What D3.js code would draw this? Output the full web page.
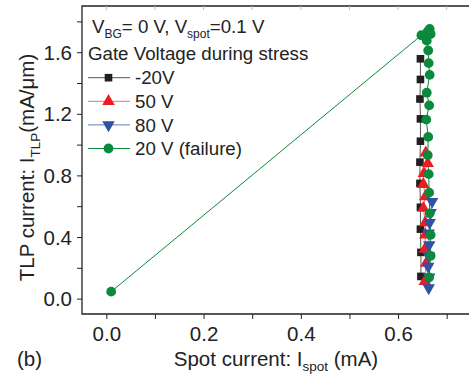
<!DOCTYPE html>
<html>
<head>
<meta charset="utf-8">
<script src="https://cdn.jsdelivr.net/npm/d3@7"></script>
<style>
  body { margin: 0; background: #fff; }
  svg { display: block; font-family: "Liberation Sans", Arial, sans-serif; }
</style>
</head>
<body>
<svg id="chart" width="469" height="375"></svg>
<script>
// values
const blackX = [0.646, 0.646, 0.645, 0.646, 0.646, 0.645, 0.645, 0.646, 0.646, 0.647, 0.647];
const blackY = [1.557, 1.423, 1.296, 1.167, 1.022, 0.886, 0.748, 0.593, 0.451, 0.300, 0.144];

const redX = [0.657, 0.661, 0.653, 0.652, 0.656, 0.652, 0.656, 0.656, 0.655, 0.658, 0.655];
const redY = [0.947, 0.878, 0.813, 0.742, 0.662, 0.587, 0.494, 0.414, 0.321, 0.231, 0.112];

const blueX = [0.670, 0.667, 0.665, 0.663, 0.664, 0.663, 0.662, 0.664, 0.663];
const blueY = [0.630, 0.558, 0.494, 0.425, 0.349, 0.278, 0.209, 0.140, 0.069];

const greenX = [0.664, 0.667, 0.667, 0.665, 0.664, 0.663, 0.661, 0.662, 0.658, 0.664, 0.659, 0.665,
  0.663, 0.662, 0.659, 0.667, 0.665, 0.661, 0.648, 0.010];
const greenY = [0.138, 0.278, 0.414, 0.554, 0.688, 0.808, 0.931, 1.050, 1.162, 1.255, 1.337, 1.453,
  1.529, 1.611, 1.675, 1.718, 1.751, 1.735, 1.710, 0.045];

const xTicks = [0.0, 0.2, 0.4, 0.6];
const yTicks = [0.0, 0.4, 0.8, 1.2, 1.6];

const series = [
  { name: '-20V', xs: blackX, ys: blackY, color: '#231f20', line: '#555', shape: 'square' },
  { name: '50 V', xs: redX, ys: redY, color: '#ed1c24', line: '#f07070', shape: 'up' },
  { name: '80 V', xs: blueX, ys: blueY, color: '#2f52a3', line: '#5b7cc4', shape: 'down' },
  { name: '20 V (failure)', xs: greenX, ys: greenY, color: '#0b8a3e', line: '#0b8a3e', shape: 'circle' }
];

const svg = d3.select('#chart');
const margin = { top: 6, left: 82, bottom: 314 };
const right = 471;
const labelSize = 20.5;
const legendSize = 18.7;

const x = d3.scaleLinear().domain([-0.05, 0.75]).range([margin.left, right]);
const y = d3.scaleLinear().domain([-0.1, 1.9]).range([margin.bottom, margin.top]);

const symbolFor = shape => {
  if (shape === 'square') return d3.symbol().type(d3.symbolSquare).size(58)();
  if (shape === 'circle') return d3.symbol().type(d3.symbolCircle).size(75)();
  return d3.symbol().type(d3.symbolTriangle).size(68)();
};

// frame
svg.append('path')
  .attr('d', `M${right},${margin.top}H${margin.left}V${margin.bottom}H${right}`)
  .attr('fill', 'none')
  .attr('stroke', '#222')
  .attr('stroke-width', 1.3);

// axes
const xAxis = d3.axisBottom(x).tickValues(d3.range(0, 0.71, 0.1)).tickSize(5)
  .tickFormat(d => xTicks.some(t => Math.abs(t - d) < 1e-6) ? d3.format('.1f')(d) : '');
const yAxis = d3.axisLeft(y).tickValues(d3.range(0, 1.81, 0.2)).tickSize(5)
  .tickFormat(d => yTicks.some(t => Math.abs(t - d) < 1e-6) ? d3.format('.1f')(d) : '');

const gx = svg.append('g').attr('transform', `translate(0,${margin.bottom})`).call(xAxis);
const gy = svg.append('g').attr('transform', `translate(${margin.left},0)`).call(yAxis);
[gx, gy].forEach(g => {
  g.select('.domain').remove();
  g.selectAll('line').attr('stroke', '#222').attr('stroke-width', 1);
  g.selectAll('text').attr('font-size', labelSize).attr('fill', '#222')
    .attr('font-family', '"Liberation Sans", Arial, sans-serif');
});
gx.selectAll('text').attr('dy', '0').attr('y', 26.5);
gy.selectAll('text').attr('x', -10).attr('dy', '0.35em');

// faint inner ticks on the top border
svg.append('g').selectAll('line')
  .data(d3.range(0, 0.71, 0.1))
  .join('line')
  .attr('x1', d => x(d)).attr('x2', d => x(d))
  .attr('y1', margin.top).attr('y2', margin.top + 4)
  .attr('stroke', '#bbb');

// series
const line = d3.line().x(d => x(d[0])).y(d => y(d[1]));
series.forEach(s => {
  const pts = s.xs.map((v, i) => [v, s.ys[i]]);
  svg.append('path')
    .datum(pts)
    .attr('d', line)
    .attr('fill', 'none')
    .attr('stroke', s.line)
    .attr('stroke-width', 1);
});
series.forEach(s => {
  const pts = s.xs.map((v, i) => [v, s.ys[i]]);
  svg.append('g').selectAll('path')
    .data(pts)
    .join('path')
    .attr('d', symbolFor(s.shape))
    .attr('transform', d => `translate(${x(d[0])},${y(d[1])})${s.shape === 'down' ? ' rotate(180)' : ''}`)
    .attr('fill', s.color);
});

// legend
const legend = svg.append('g');
const t1 = legend.append('text').attr('x', 92).attr('y', 32.5).attr('font-size', legendSize).attr('fill', '#222');
t1.append('tspan').text('V');
t1.append('tspan').attr('font-size', 12).attr('dy', 5).text('BG');
t1.append('tspan').attr('dy', -5).text('= 0 V, V');
t1.append('tspan').attr('font-size', 12).attr('dy', 5).text('spot');
t1.append('tspan').attr('dy', -5).text('=0.1 V');

legend.append('text').attr('x', 88).attr('y', 59.5).attr('font-size', legendSize).attr('fill', '#222')
  .text('Gate Voltage during stress');

series.forEach((s, i) => {
  const cy = 77.7 + i * 23.6;
  legend.append('line')
    .attr('x1', 88).attr('x2', 130).attr('y1', cy).attr('y2', cy)
    .attr('stroke', s.line).attr('stroke-width', 1);
  legend.append('path')
    .attr('d', symbolFor(s.shape))
    .attr('transform', `translate(108.5,${cy})${s.shape === 'down' ? ' rotate(180)' : ''}`)
    .attr('fill', s.color);
  legend.append('text')
    .attr('x', 135).attr('y', cy + 6.7)
    .attr('font-size', legendSize).attr('fill', '#222')
    .text(s.name);
});

// axis titles
const xt = svg.append('text').attr('x', 276).attr('y', 365.5).attr('text-anchor', 'middle')
  .attr('font-size', labelSize).attr('fill', '#222');
xt.append('tspan').text('Spot current: I');
xt.append('tspan').attr('font-size', 13.5).attr('dy', 5.5).text('spot');
xt.append('tspan').attr('dy', -5.5).text(' (mA)');

const yt = svg.append('text')
  .attr('transform', 'translate(34,167.5) rotate(-90)')
  .attr('text-anchor', 'middle')
  .attr('font-size', labelSize).attr('fill', '#222');
yt.append('tspan').text('TLP current: I');
yt.append('tspan').attr('font-size', 13.5).attr('dy', 5.5).text('TLP');
yt.append('tspan').attr('dy', -5.5).text('(mA/\u03bcm)');

svg.append('text').attr('x', 17).attr('y', 365.5).attr('font-size', labelSize).attr('fill', '#222').text('(b)');
</script>
</body>
</html>
